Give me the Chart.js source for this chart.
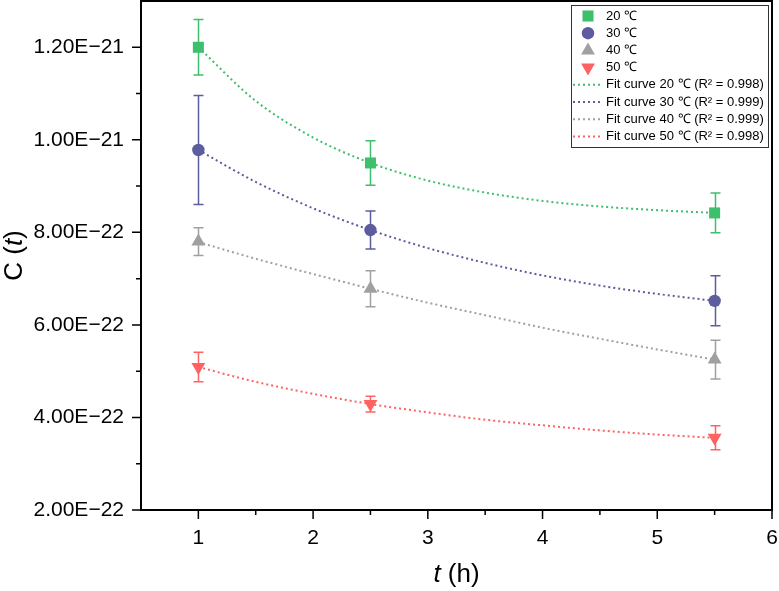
<!DOCTYPE html>
<html>
<head>
<meta charset="utf-8">
<script src="https://cdn.jsdelivr.net/npm/chart.js@4.4.0/dist/chart.umd.min.js"></script>
<style>
  html, body { margin: 0; padding: 0; background: #fff; }
  #wrap { width: 779px; height: 591px; }
</style>
</head>
<body>
<div id="wrap"><canvas id="chart" width="779" height="591"></canvas></div>
<script>
// measured points (t in h)
const times = [1, 2.5, 5.5];
const c20 = [12.0e-22, 9.50e-22, 8.42e-22];
const c20Err = [0.60e-22, 0.48e-22, 0.43e-22];
const c30 = [9.78e-22, 8.05e-22, 6.52e-22];
const c30Err = [1.18e-22, 0.41e-22, 0.54e-22];
const c40 = [7.80e-22, 6.78e-22, 5.25e-22];
const c40Err = [0.30e-22, 0.39e-22, 0.42e-22];
const c50 = [5.09e-22, 4.29e-22, 3.56e-22];
const c50Err = [0.32e-22, 0.17e-22, 0.26e-22];

// fit curves
const fitTimes = [1, 1.5, 2, 2.5, 3, 3.5, 4, 4.5, 5, 5.5];
const fit20 = [12.0e-22, 10.84e-22, 10.05e-22, 9.50e-22, 9.12e-22, 8.86e-22, 8.68e-22, 8.56e-22, 8.48e-22, 8.42e-22];
const fit30 = [9.78e-22, 9.09e-22, 8.52e-22, 8.05e-22, 7.66e-22, 7.34e-22, 7.07e-22, 6.85e-22, 6.67e-22, 6.52e-22];
const fit40 = [7.79e-22, 7.43e-22, 7.10e-22, 6.78e-22, 6.48e-22, 6.21e-22, 5.94e-22, 5.70e-22, 5.47e-22, 5.25e-22];
const fit50 = [5.09e-22, 4.77e-22, 4.51e-22, 4.29e-22, 4.11e-22, 3.95e-22, 3.83e-22, 3.72e-22, 3.63e-22, 3.56e-22];

const seriesNames = ['20 ℃', '30 ℃', '40 ℃', '50 ℃'];
const fitNames = ['Fit curve 20 ℃ (R² = 0.998)', 'Fit curve 30 ℃ (R² = 0.999)', 'Fit curve 40 ℃ (R² = 0.999)', 'Fit curve 50 ℃ (R² = 0.998)'];

const xTicks = [1, 2, 3, 4, 5, 6];
const xMinorTicks = [1.5, 2.5, 3.5, 4.5, 5.5];
const yTicks = [2e-22, 4e-22, 6e-22, 8e-22, 10e-22, 12e-22];
const yMinorTicks = [3e-22, 5e-22, 7e-22, 9e-22, 11e-22];

const colors = ['#3dbf6c', '#5c5c9e', '#a0a0a0', '#ff6262'];
const styles = [
  { pointStyle: 'rect', radius: 7.8, rotation: 0 },
  { pointStyle: 'circle', radius: 6.2, rotation: 0 },
  { pointStyle: 'triangle', radius: 8, rotation: 0 },
  { pointStyle: 'triangle', radius: 8, rotation: 180 }
];

const pointSets = [c20, c30, c40, c50];
const errSets = [c20Err, c30Err, c40Err, c50Err];
const fitSets = [fit20, fit30, fit40, fit50];

const FONT = "'Liberation Sans', Arial, sans-serif";

const datasets = [];
pointSets.forEach((vals, i) => {
  datasets.push({
    label: seriesNames[i],
    data: times.map((t, j) => ({ x: t, y: vals[j] })),
    errors: errSets[i],
    showLine: false,
    pointStyle: styles[i].pointStyle,
    pointRotation: styles[i].rotation,
    pointRadius: styles[i].radius,
    pointBackgroundColor: colors[i],
    pointBorderColor: colors[i],
    pointBorderWidth: 0
  });
});
fitSets.forEach((vals, i) => {
  datasets.push({
    label: fitNames[i],
    data: fitTimes.map((t, j) => ({ x: t, y: vals[j] })),
    showLine: true,
    pointRadius: 0,
    borderColor: colors[i],
    borderWidth: 2,
    borderDash: [2, 3],
    cubicInterpolationMode: 'monotone',
    fill: false
  });
});

function fmtExp(v) {
  return v.toExponential(2).toUpperCase().replace('-', '−');
}

function noPadding(s) {
  s.paddingTop = 0; s.paddingBottom = 0; s.paddingLeft = 0; s.paddingRight = 0;
}

// error bars under the markers
const errorBars = {
  id: 'errorBars',
  beforeDatasetsDraw(chart) {
    const ctx = chart.ctx;
    const xs = chart.scales.x, ys = chart.scales.y;
    ctx.save();
    ctx.lineWidth = 1.5;
    chart.data.datasets.forEach((ds, i) => {
      if (!ds.errors) return;
      ctx.strokeStyle = colors[i];
      ds.data.forEach((p, j) => {
        const px = Math.round(xs.getPixelForValue(p.x)) + 0.5;
        const top = ys.getPixelForValue(p.y + ds.errors[j]);
        const bot = ys.getPixelForValue(p.y - ds.errors[j]);
        ctx.beginPath();
        ctx.moveTo(px, top); ctx.lineTo(px, bot);
        ctx.moveTo(px - 5, top); ctx.lineTo(px + 5, top);
        ctx.moveTo(px - 5, bot); ctx.lineTo(px + 5, bot);
        ctx.stroke();
      });
    });
    ctx.restore();
  }
};

// frame, tick marks, axis titles, legend box
const decor = {
  id: 'decor',
  afterDraw(chart) {
    const ctx = chart.ctx;
    const a = chart.chartArea;
    const xs = chart.scales.x, ys = chart.scales.y;
    ctx.save();
    ctx.strokeStyle = '#000';
    ctx.lineWidth = 2;
    ctx.strokeRect(a.left, a.top, a.right - a.left, a.bottom - a.top);

    ctx.lineWidth = 1.5;
    ctx.beginPath();
    xTicks.forEach(v => {
      const x = xs.getPixelForValue(v);
      ctx.moveTo(x, a.bottom); ctx.lineTo(x, a.bottom + 9);
    });
    xMinorTicks.forEach(v => {
      const x = xs.getPixelForValue(v);
      ctx.moveTo(x, a.bottom); ctx.lineTo(x, a.bottom + 5);
    });
    yTicks.forEach(v => {
      const y = ys.getPixelForValue(v);
      ctx.moveTo(a.left, y); ctx.lineTo(a.left - 9, y);
    });
    yMinorTicks.forEach(v => {
      const y = ys.getPixelForValue(v);
      ctx.moveTo(a.left, y); ctx.lineTo(a.left - 5, y);
    });
    ctx.stroke();

    // axis titles
    ctx.fillStyle = '#000';
    ctx.textBaseline = 'middle';
    ctx.textAlign = 'left';
    const normal = '26px ' + FONT, italic = 'italic 26px ' + FONT;
    const drawParts = (parts, cx, cy) => {
      let w = 0;
      parts.forEach(p => { ctx.font = p[1]; w += ctx.measureText(p[0]).width; });
      let x = cx - w / 2;
      parts.forEach(p => { ctx.font = p[1]; ctx.fillText(p[0], x, cy); x += ctx.measureText(p[0]).width; });
    };
    drawParts([['t', italic], [' (h)', normal]], (a.left + a.right) / 2, 575);
    ctx.save();
    ctx.translate(15, (a.top + a.bottom) / 2);
    ctx.rotate(-Math.PI / 2);
    drawParts([['C (', normal], ['t', italic], [')', normal]], 0, 0);
    ctx.restore();

    // legend
    const lx = 571, ly = 5, lw = 197, lh = 142;
    ctx.fillStyle = '#fff';
    ctx.fillRect(lx, ly, lw, lh);
    ctx.lineWidth = 1;
    ctx.strokeStyle = '#333';
    ctx.strokeRect(lx + 0.5, ly + 0.5, lw, lh);
    ctx.font = '13px ' + FONT;
    ctx.textBaseline = 'middle';
    const rowY = i => 16 + i * 17.2;
    seriesNames.forEach((name, i) => {
      ctx.fillStyle = colors[i];
      ctx.strokeStyle = colors[i];
      Chart.helpers.drawPoint(ctx, {
        pointStyle: styles[i].pointStyle,
        rotation: styles[i].rotation,
        radius: styles[i].radius,
        borderWidth: 0
      }, 588, rowY(i));
      ctx.fillStyle = '#000';
      ctx.fillText(name, 606, rowY(i));
    });
    fitNames.forEach((name, i) => {
      const y = rowY(i + 4);
      ctx.strokeStyle = colors[i];
      ctx.lineWidth = 2;
      ctx.setLineDash([2, 3]);
      ctx.beginPath();
      ctx.moveTo(573, y); ctx.lineTo(601, y);
      ctx.stroke();
      ctx.setLineDash([]);
      ctx.fillStyle = '#000';
      ctx.fillText(name, 606, y);
    });
    ctx.restore();
  }
};

new Chart(document.getElementById('chart'), {
  type: 'scatter',
  data: { datasets: datasets },
  options: {
    responsive: false,
    animation: false,
    devicePixelRatio: 1,
    layout: { autoPadding: false, padding: { top: 1, right: 7, left: 0, bottom: 0 } },
    plugins: { legend: { display: false }, tooltip: { enabled: false } },
    scales: {
      x: {
        type: 'linear',
        min: 0.5,
        max: 6,
        grid: { display: false, drawTicks: false },
        border: { display: false },
        ticks: { color: '#000', font: { family: FONT, size: 21 }, padding: 16, maxRotation: 0,
                 callback: v => String(v) },
        afterBuildTicks: s => { s.ticks = xTicks.map(v => ({ value: v })); },
        afterFit: s => { s.height = 81; noPadding(s); }
      },
      y: {
        type: 'linear',
        min: 2e-22,
        max: 13e-22,
        grid: { display: false, drawTicks: false },
        border: { display: false },
        ticks: { color: '#000', font: { family: FONT, size: 21 }, padding: 17,
                 callback: v => fmtExp(v) },
        afterBuildTicks: s => { s.ticks = yTicks.map(v => ({ value: v })); },
        afterFit: s => { s.width = 141; noPadding(s); }
      }
    }
  },
  plugins: [errorBars, decor]
});
</script>
</body>
</html>
